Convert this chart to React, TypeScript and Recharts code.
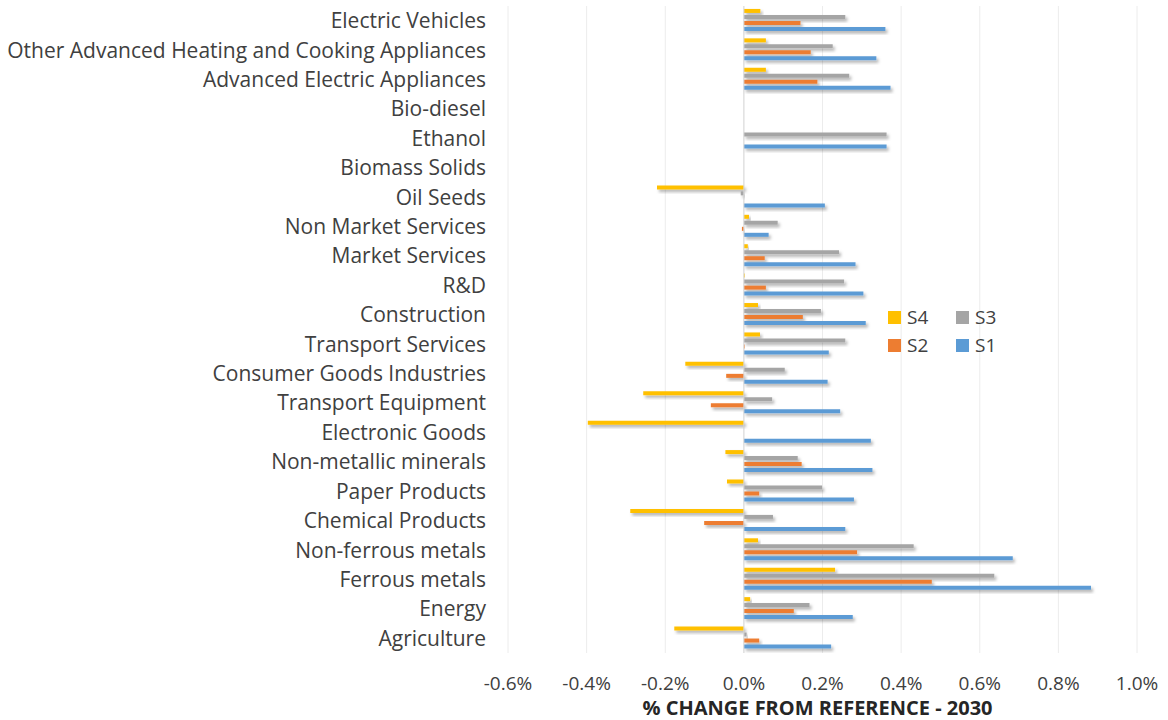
import React from 'react'
import { BarChart, Bar, XAxis, YAxis, CartesianGrid, Legend, ReferenceLine, Rectangle } from 'recharts'

const categories = [
    'Electric Vehicles',
    'Other Advanced Heating and Cooking Appliances',
    'Advanced Electric Appliances',
    'Bio-diesel',
    'Ethanol',
    'Biomass Solids',
    'Oil Seeds',
    'Non Market Services',
    'Market Services',
    'R&D',
    'Construction',
    'Transport Services',
    'Consumer Goods Industries',
    'Transport Equipment',
    'Electronic Goods',
    'Non-metallic minerals',
    'Paper Products',
    'Chemical Products',
    'Non-ferrous metals',
    'Ferrous metals',
    'Energy',
    'Agriculture',
]

// % change from reference, 2030
const s1 = [0.360, 0.337, 0.373, 0, 0.363, 0, 0.206, 0.063, 0.284, 0.304, 0.310, 0.216, 0.213, 0.245, 0.323, 0.327, 0.280, 0.258, 0.684, 0.883, 0.277, 0.222]
const s2 = [0.144, 0.170, 0.187, 0, 0, 0, 0, -0.005, 0.053, 0.056, 0.150, 0.002, -0.045, -0.084, 0, 0.147, 0.039, -0.101, 0.288, 0.478, 0.127, 0.039]
const s3 = [0.258, 0.226, 0.268, 0, 0.363, 0, -0.008, 0.086, 0.242, 0.255, 0.196, 0.258, 0.104, 0.072, 0, 0.137, 0.199, 0.074, 0.432, 0.637, 0.167, 0.007]
const s4 = [0.042, 0.056, 0.056, 0, 0, 0, -0.221, 0.013, 0.010, 0.002, 0.036, 0.041, -0.149, -0.256, -0.397, -0.047, -0.043, -0.289, 0.036, 0.232, 0.016, -0.177]

const xTicks = [-0.6, -0.4, -0.2, 0, 0.2, 0.4, 0.6, 0.8, 1.0]

const series = [
    { key: 'S4', color: '#FFC000' },
    { key: 'S3', color: '#A5A5A5' },
    { key: 'S2', color: '#ED7D31' },
    { key: 'S1', color: '#5B9BD5' },
]

const data = categories.map((name, i) => ({
    name,
    S1: s1[i],
    S2: s2[i],
    S3: s3[i],
    S4: s4[i],
}))

const font = '"Open Sans", sans-serif'

const ShadowBar = (props: any) => <Rectangle {...props} filter="url(#barShadow)" />

const LegendBox = () => (
    <div style={{ display: 'grid', gridTemplateColumns: '68px 68px', rowGap: 6, fontFamily: font, fontSize: 19, color: '#404040' }}>
        {series.map((s) => (
            <div key={s.key} style={{ display: 'flex', alignItems: 'center', height: 22 }}>
                <span style={{ display: 'inline-block', width: 13, height: 13, background: s.color, marginRight: 6 }} />
                {s.key}
            </div>
        ))}
    </div>
)

function App() {
    return (
        <div style={{ position: 'absolute', left: 0, top: 0, background: '#fff' }}>
            <BarChart
                width={1168}
                height={720}
                data={data}
                layout="vertical"
                margin={{ top: 6, right: 31, bottom: 0, left: 0 }}
                barCategoryGap="10%"
                barGap={2}
            >
                <defs>
                    <filter id="barShadow" x="-10%" y="-50%" width="130%" height="250%">
                        <feDropShadow dx="2" dy="2.5" stdDeviation="1.4" floodColor="#000" floodOpacity="0.3" />
                    </filter>
                </defs>
                <CartesianGrid horizontal={false} stroke="#ececec" />
                <XAxis
                    type="number"
                    domain={[-0.6, 1.0]}
                    ticks={xTicks}
                    tickFormatter={(v: number) => `${v.toFixed(1)}%`}
                    axisLine={false}
                    tickLine={false}
                    tickMargin={18}
                    height={67}
                    tick={{ fill: '#404040', fontSize: 19, fontFamily: font }}
                    label={{ value: '% CHANGE FROM REFERENCE - 2030', position: 'insideBottom', offset: 5, dx: -5, fill: '#262626', fontSize: 20, fontWeight: 'bold', fontFamily: font }}
                />
                <YAxis
                    type="category"
                    dataKey="name"
                    width={508}
                    axisLine={false}
                    tickLine={false}
                    tickMargin={16}
                    interval={0}
                    tick={{ fill: '#404040', fontSize: 21, fontFamily: font }}
                />
                <ReferenceLine x={0} stroke="#d9d9d9" />
                <Legend
                    layout="horizontal"
                    verticalAlign="middle"
                    align="center"
                    content={<LegendBox />}
                    wrapperStyle={{ position: 'absolute', left: 888, top: 306, width: 140 }}
                />
                {series.map((s) => (
                    <Bar key={s.key} dataKey={s.key} fill={s.color} isAnimationActive={false} shape={ShadowBar} />
                ))}
            </BarChart>
        </div>
    )
}

export default App
